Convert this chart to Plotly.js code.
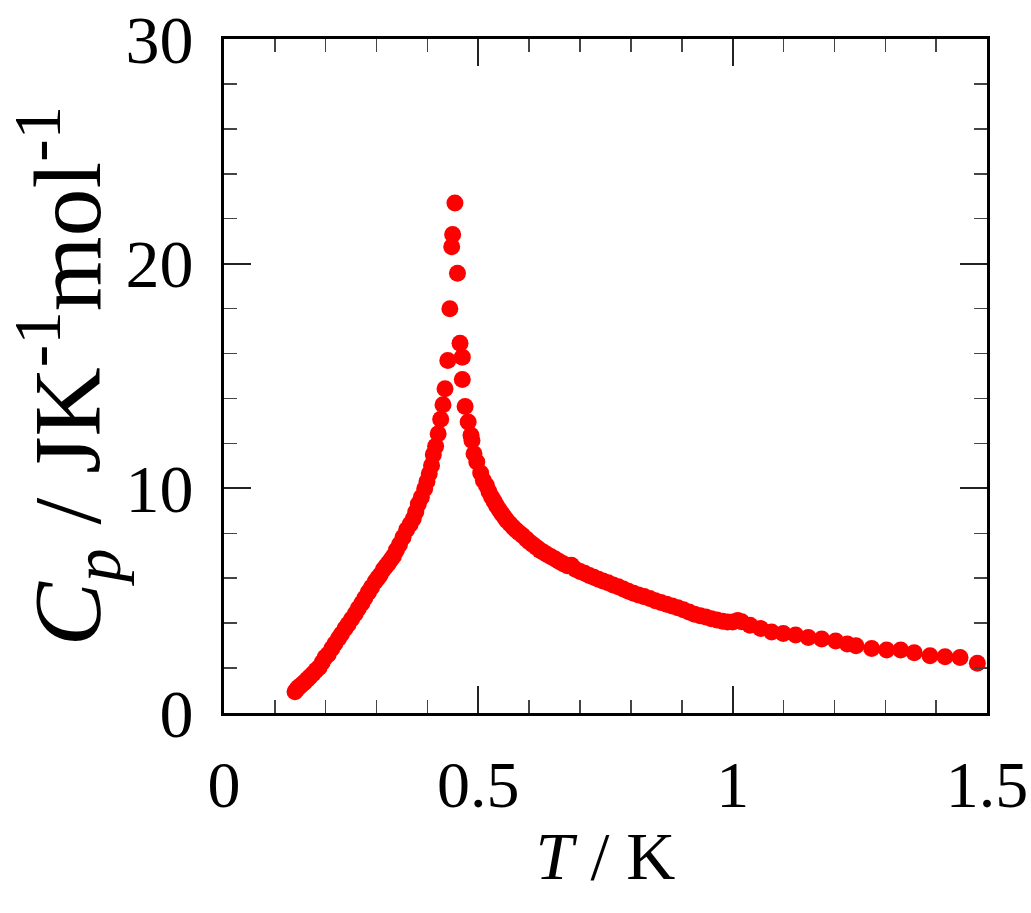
<!DOCTYPE html>
<html>
<head>
<meta charset="utf-8">
<script src="https://cdn.plot.ly/plotly-3.0.1.min.js"></script>
<style>html,body{margin:0;padding:0;background:#fff;}#chart{width:1031px;height:913px;}</style>
</head>
<body>
<div id="chart"></div>
<script>
// Temperature (K) and heat capacity Cp (J K^-1 mol^-1)
const tLow = [0.1396, 0.143, 0.146, 0.150, 0.155, 0.159, 0.164, 0.169, 0.175, 0.181, 0.187, 0.193, 0.199, 0.205, 0.212, 0.218, 0.225, 0.231, 0.238, 0.244, 0.251, 0.258, 0.264, 0.271, 0.277, 0.284, 0.290, 0.297, 0.302, 0.307, 0.313, 0.318, 0.323, 0.328, 0.333, 0.339, 0.345, 0.352, 0.359, 0.366, 0.372, 0.377, 0.382, 0.388, 0.3945, 0.399, 0.4035, 0.408, 0.4115, 0.416, 0.421, 0.426, 0.4305, 0.4345, 0.440, 0.444, 0.4476, 0.4495, 0.454];
const cpLow = [0.95, 1.05, 1.14, 1.20, 1.30, 1.38, 1.50, 1.61, 1.75, 1.90, 2.03, 2.25, 2.48, 2.62, 2.87, 3.08, 3.32, 3.52, 3.76, 3.95, 4.18, 4.42, 4.65, 4.88, 5.12, 5.38, 5.60, 5.84, 6.00, 6.14, 6.38, 6.52, 6.66, 6.82, 6.98, 7.25, 7.50, 7.82, 8.16, 8.40, 8.65, 8.95, 9.30, 9.60, 9.98, 10.30, 10.65, 11.02, 11.50, 11.87, 12.43, 13.07, 13.72, 14.43, 15.69, 17.99, 20.75, 21.30, 22.70];
const tHigh = [0.459, 0.464, 0.4685, 0.4685, 0.474, 0.480, 0.4856, 0.4875, 0.4915, 0.497, 0.5046, 0.510, 0.516, 0.521, 0.526, 0.531, 0.536, 0.541, 0.546, 0.551, 0.556, 0.562, 0.568, 0.574, 0.580, 0.587, 0.594, 0.600, 0.607, 0.614, 0.621, 0.628, 0.635, 0.643, 0.651, 0.659, 0.667, 0.675, 0.683, 0.691, 0.700, 0.709, 0.718, 0.727, 0.736, 0.745, 0.755, 0.765, 0.775, 0.785, 0.795, 0.805, 0.815, 0.826, 0.837, 0.848, 0.859, 0.870, 0.881, 0.892, 0.903, 0.914, 0.925, 0.936, 0.947, 0.958, 0.969, 0.980, 0.990, 1.000, 1.010, 1.0177, 1.034, 1.055, 1.0766, 1.0995, 1.1238, 1.1487, 1.175, 1.2025, 1.2254, 1.2425, 1.2733, 1.3027, 1.3303, 1.357, 1.388, 1.4175, 1.447, 1.481];
const cpHigh = [19.57, 16.46, 15.84, 14.84, 13.64, 12.95, 12.36, 12.13, 11.54, 11.17, 10.68, 10.35, 10.13, 9.85, 9.61, 9.42, 9.22, 9.05, 8.88, 8.72, 8.57, 8.42, 8.28, 8.15, 8.02, 7.90, 7.75, 7.62, 7.50, 7.38, 7.25, 7.15, 7.05, 6.95, 6.85, 6.74, 6.64, 6.55, 6.58, 6.40, 6.30, 6.22, 6.12, 6.04, 5.95, 5.88, 5.80, 5.70, 5.62, 5.52, 5.42, 5.33, 5.25, 5.18, 5.10, 5.00, 4.92, 4.84, 4.76, 4.68, 4.60, 4.50, 4.40, 4.33, 4.27, 4.20, 4.14, 4.08, 4.05, 4.05, 4.12, 4.06, 3.91, 3.76, 3.61, 3.54, 3.47, 3.36, 3.29, 3.20, 3.07, 2.99, 2.87, 2.80, 2.80, 2.68, 2.55, 2.50, 2.47, 2.21];

const xTickVals = [0, 0.5, 1, 1.5];
const xTickText = ['0', '0.5', '1', '1.5'];
const yTickVals = [0, 10, 20, 30];
const yTickText = ['0', '10', '20', '30'];

const T = tLow.concat(tHigh);
const Cp = cpLow.concat(cpHigh);

const fontFam = 'Liberation Serif, Times New Roman, Times, serif';

const trace = {
  x: T, y: Cp, type: 'scatter', mode: 'markers',
  marker: {color: '#ff0000', size: 17, line: {width: 0}},
  hoverinfo: 'x+y'
};

const layout = {
  width: 1031, height: 913,
  margin: {l: 224, r: 44, t: 38.5, b: 200},
  paper_bgcolor: '#ffffff', plot_bgcolor: '#ffffff',
  showlegend: false,
  font: {family: fontFam, color: '#000'},
  xaxis: {
    range: [0, 1.5], tickmode: 'array', tickvals: xTickVals, ticktext: xTickText,
    ticks: 'inside', ticklen: 27, tickwidth: 2, tickcolor: '#222',
    minor: {dtick: 0.1, ticks: 'inside', ticklen: 13, tickwidth: 1.5, tickcolor: '#444', showgrid: false},
    showline: true, linewidth: 3, linecolor: '#000', mirror: 'allticks',
    showgrid: false, zeroline: false,
    tickfont: {family: fontFam, size: 66, color: '#000'},
    ticklabelstandoff: 12,
    title: {text: '<i>T</i> / K', font: {family: fontFam, size: 68, color: '#000'}, standoff: 12}
  },
  yaxis: {
    range: [0, 30], tickmode: 'array', tickvals: yTickVals, ticktext: yTickText,
    ticks: 'inside', ticklen: 27, tickwidth: 2, tickcolor: '#222',
    minor: {dtick: 2, ticks: 'inside', ticklen: 13, tickwidth: 1.5, tickcolor: '#444', showgrid: false},
    showline: true, linewidth: 3, linecolor: '#000', mirror: 'allticks',
    showgrid: false, zeroline: false,
    tickfont: {family: fontFam, size: 68, color: '#000'},
    ticklabelstandoff: 14,
    title: {text: '<i>C<sub>p</sub></i> / JK<sup>-1</sup>mol<sup>-1</sup>', font: {family: fontFam, size: 96, color: '#000'}, standoff: 8}
  }
};

Plotly.newPlot('chart', [trace], layout, {displayModeBar: false, staticPlot: true});
</script>
</body>
</html>
